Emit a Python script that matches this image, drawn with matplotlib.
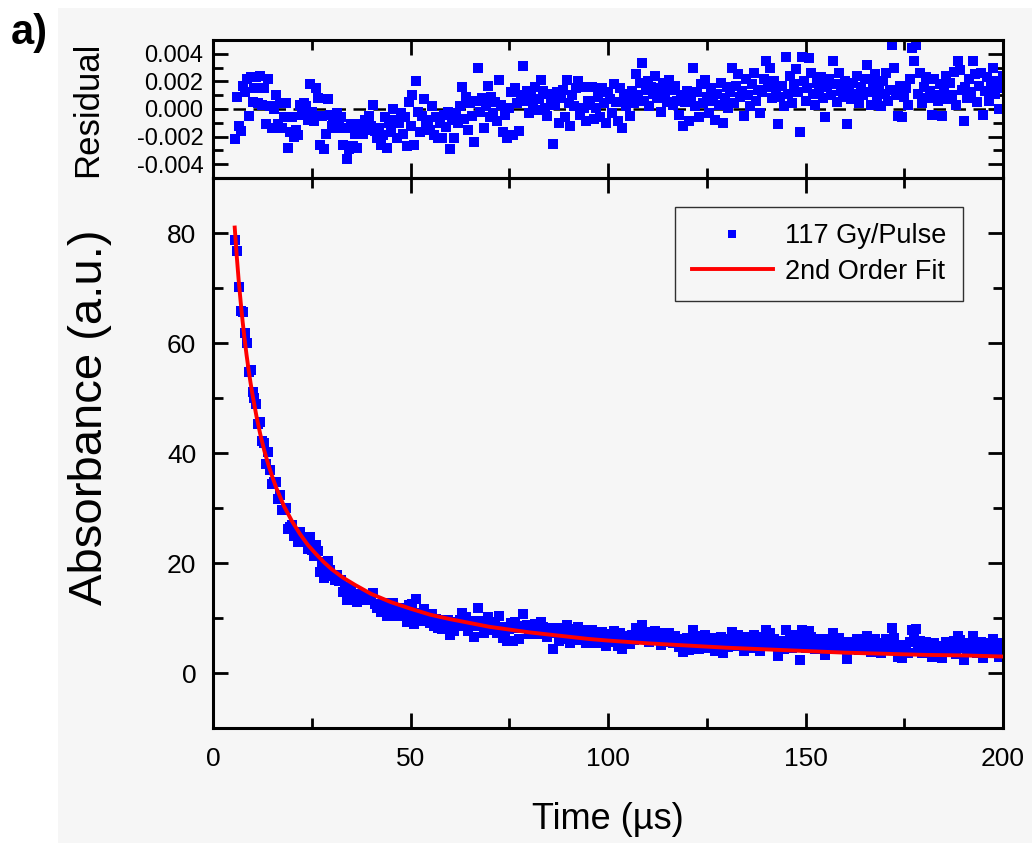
'''
Second order decay fit of transient absorbance, with residual panel
'''
import numpy as np
import matplotlib
matplotlib.use('Agg')
import matplotlib.pyplot as plt
from matplotlib.ticker import MultipleLocator, FixedLocator, FormatStrFormatter
from matplotlib.patches import Rectangle

plt.rcParams['font.family'] = ['Liberation Sans', 'DejaVu Sans']
plt.rcParams['axes.unicode_minus'] = False

# time grid of the digitizer, 0.5 us steps (us)
time = np.arange(5.5, 200.01, 0.5)

# residual of the fit (units of 1e-3)
residual = [
    -2.2, 0.9, -1.2, -1.6, 1.7, 1.2, 2.2, -0.5, 2.3, 0.5, 1.5, 2.3, 0.4, 2.4, 0.3, 1.5, -1.1, 2.2, 0.2, -1.4,
    0.0, 1.0, -1.1, 0.4, -1.4, -0.6, 0.4, -2.8, -1.7, -0.6, -2.0, -1.5, -1.9, 0.3, -0.4, 0.4, 0.2, -0.8, 1.8, -0.2,
    -0.9, 1.5, 0.8, -2.6, -0.5, -2.9, -1.8, 0.7, -0.4, -1.2, -0.9, -1.4, -0.3, -1.1, -0.6, -2.6, -1.4, -3.6, -2.9, -1.1,
    -2.7, -1.8, -2.8, -1.6, -1.1, -1.8, -0.8, -1.5, -0.5, -1.2, 0.3, -1.6, -2.1, -1.4, -2.6, -1.9, -0.6, -2.8, -1.0, -1.7,
    0.0, -0.8, -2.1, -1.0, -0.3, -1.8, -0.6, -2.7, 0.5, -1.2, 1.0, -2.6, 2.0, -0.2, -1.7, -0.5, 0.7, -1.2, -0.8, -1.5,
    0.2, -1.9, -0.6, -2.1, -1.0, -2.1, -0.4, -1.3, -0.2, -2.9, -0.8, -2.1, -0.3, -1.0, 0.2, 1.6, -0.7, 0.9, -1.5, 0.4,
    -0.5, -2.4, 0.6, 2.95, -0.2, 0.8, -1.4, 0.2, 1.7, -0.6, 0.9, -0.3, 0.5, -0.9, 2.1, 0.3, -1.7, -0.4, -2.1, 0.1,
    1.2, -1.9, 1.5, 0.4, -1.6, 1.0, 3.1, 0.6, 1.3, -0.3, 0.9, 0.2, 1.6, -0.1, 0.7, 2.1, 1.3, 0.1, -0.5, 1.1,
    0.6, -2.5, 0.3, 1.2, -1.0, 0.8, 1.4, -0.6, 2.1, 0.4, -1.2, 1.0, 0.2, 1.5, 2.0, -0.4, 1.6, 0.1, -0.9, 0.6,
    0.3, 1.6, -0.7, 0.1, 0.9, -0.6, 1.5, 0.4, -1.0, 1.2, 0.7, -0.3, 1.8, 0.5, -0.9, 1.5, -1.4, 0.8, 0.2, 1.1,
    -0.5, 1.3, 0.4, 2.5, 1.0, 1.9, 3.3, 0.6, 1.4, 2.0, 0.2, 1.6, 1.1, 2.4, 0.8, 1.5, -0.2, 1.9, 1.2, 0.5,
    2.1, 1.4, 0.3, 1.7, 0.6, -0.4, 1.0, -1.2, 0.5, 1.3, -0.9, 0.7, 2.95, 0.2, 1.2, -0.6, 1.8, 0.4, 2.1, 0.9,
    -0.3, 1.5, 0.6, -0.8, 1.1, 0.3, 1.9, -1.0, 0.8, 1.6, 0.1, 1.2, 2.95, 0.4, 1.7, 2.5, 0.9, 1.3, -0.5, 2.2,
    1.0, 0.2, 1.8, 2.6, 0.6, 1.4, -0.3, 1.2, 2.2, 3.5, 1.6, 3.0, 0.8, 2.0, 1.3, -1.1, 0.9, 1.7, 0.2, 3.8,
    1.1, 2.4, 0.4, 1.8, 2.9, 1.2, -1.7, 3.8, 2.0, 0.6, 1.5, 3.7, 2.6, 1.1, 0.3, 1.9, 1.4, 2.3, 0.8, -0.6,
    1.6, 2.2, 1.0, 3.5, 1.8, 0.5, 2.6, 1.3, 0.9, 2.0, -1.1, 1.4, 0.7, 1.9, 1.1, 2.4, 0.4, 1.6, 1.0, 2.2,
    3.2, 1.2, 0.3, 1.8, 2.5, 0.8, 1.5, 0.2, 2.0, 1.1, 2.6, 0.6, 1.4, 4.6, 2.95, 1.0, -0.5, 1.7, -0.6, 0.9,
    1.5, 0.3, 2.2, 4.4, 3.5, 4.6, 1.1, 2.6, 0.4, 1.6, 2.3, 0.8, 1.3, -0.4, 2.2, 1.0, 0.6, 1.8, -0.5, 1.2,
    2.4, 0.7, 1.9, 1.0, 2.7, 0.3, 3.5, 2.8, 1.4, -0.9, 1.6, 0.8, 2.2, 1.2, 3.5, 2.5, 0.5, 1.7, 2.6, -0.4,
    1.3, 2.3, 0.6, 1.8, 3.0, 1.1, 2.0, 0.0, 1.5, 2.4,
]

# measured absorbance (a.u.)
absorbance = [
    78.8, 76.8, 70.2, 65.9, 65.6, 61.9, 60.0, 54.7, 55.1, 51.1, 50.0, 49.0, 45.3, 45.7, 42.1, 41.9, 38.0, 40.1, 37.0, 34.3,
    34.7, 34.7, 31.7, 32.3, 29.7, 29.7, 30.0, 26.1, 26.5, 27.0, 25.0, 24.9, 23.9, 25.6, 24.4, 24.7, 24.0, 22.5, 24.7, 22.3,
    21.2, 23.2, 22.1, 18.3, 20.1, 17.3, 18.1, 20.3, 18.8, 17.7, 17.8, 17.0, 17.8, 16.7, 17.0, 14.7, 15.7, 13.2, 13.7, 15.3,
    13.5, 14.2, 13.0, 13.9, 14.3, 13.4, 14.2, 13.3, 14.1, 13.2, 14.6, 12.5, 11.9, 12.4, 11.1, 11.6, 12.8, 10.4, 12.1, 11.2,
    12.8, 11.8, 10.4, 11.4, 11.9, 10.3, 11.4, 9.2, 12.3, 10.5, 12.6, 8.9, 13.4, 11.0, 9.4, 10.5, 11.6, 9.6, 9.9, 9.1,
    10.8, 8.6, 9.8, 8.2, 9.2, 8.0, 9.7, 8.7, 9.7, 6.9, 8.9, 7.6, 9.3, 8.5, 9.6, 11.0, 8.6, 10.1, 7.7, 9.5,
    8.5, 6.5, 9.5, 11.8, 8.6, 9.5, 7.2, 8.8, 10.2, 7.8, 9.3, 8.0, 8.8, 7.3, 10.3, 8.4, 6.4, 7.6, 5.9, 8.0,
    9.1, 5.9, 9.3, 8.1, 6.1, 8.6, 10.7, 8.1, 8.8, 7.1, 8.3, 7.5, 8.9, 7.1, 7.9, 9.3, 8.4, 7.2, 6.6, 8.1,
    7.6, 4.4, 7.2, 8.1, 5.8, 7.6, 8.1, 6.1, 8.8, 7.0, 5.4, 7.5, 6.7, 8.0, 8.4, 6.0, 7.9, 6.4, 5.4, 6.8,
    6.5, 7.8, 5.4, 6.2, 7.0, 5.4, 7.5, 6.4, 4.9, 7.1, 6.6, 5.6, 7.6, 6.3, 4.9, 7.3, 4.4, 6.5, 5.9, 6.8,
    5.2, 6.9, 6.0, 8.1, 6.6, 7.4, 8.8, 6.1, 6.9, 7.4, 5.6, 7.0, 6.5, 7.7, 6.1, 6.8, 5.1, 7.2, 6.4, 5.7,
    7.3, 6.6, 5.5, 6.8, 5.7, 4.7, 6.1, 3.9, 5.5, 6.3, 4.1, 5.7, 7.9, 5.1, 6.1, 4.3, 6.7, 5.3, 6.9, 5.7,
    4.5, 6.3, 5.4, 4.0, 5.8, 5.0, 6.6, 3.7, 5.5, 6.2, 4.7, 5.8, 7.5, 5.0, 6.2, 7.0, 5.4, 5.8, 4.0, 6.6,
    5.4, 4.6, 6.2, 7.0, 5.0, 5.8, 4.0, 5.5, 6.5, 7.8, 5.9, 7.3, 5.1, 6.2, 5.5, 3.1, 5.1, 5.9, 4.4, 7.9,
    5.2, 6.5, 4.5, 5.9, 7.0, 5.3, 2.3, 7.8, 6.0, 4.6, 5.5, 7.7, 6.6, 5.1, 4.3, 5.8, 5.3, 6.2, 4.7, 3.3,
    5.5, 6.1, 4.9, 7.3, 5.6, 4.3, 6.4, 5.1, 4.7, 5.7, 2.6, 5.1, 4.4, 5.6, 4.8, 6.1, 4.1, 5.2, 4.6, 5.8,
    6.8, 4.8, 3.9, 5.4, 6.1, 4.4, 5.1, 3.7, 5.5, 4.6, 6.1, 4.1, 4.9, 8.1, 6.4, 4.5, 2.9, 5.1, 2.8, 4.3,
    4.9, 3.7, 5.6, 7.8, 6.9, 8.0, 4.5, 5.9, 3.7, 4.9, 5.6, 4.1, 4.6, 2.9, 5.5, 4.3, 3.9, 5.0, 2.7, 4.4,
    5.6, 3.9, 5.1, 4.2, 5.9, 3.5, 6.7, 6.0, 4.6, 2.3, 4.8, 4.0, 5.4, 4.4, 6.7, 5.6, 3.6, 4.8, 5.7, 2.7,
    4.4, 5.4, 3.7, 4.9, 6.1, 4.1, 5.0, 3.0, 4.5, 5.4,
]

# 2nd order fit curve
fit_time = [5.5, 6, 6.5, 7, 7.5, 8, 8.5, 9, 9.5, 10, 11, 12, 13, 14, 15, 16, 18, 20, 22, 24, 26, 28, 30,
            33, 36, 40, 45, 50, 55, 60, 65, 70, 75, 80, 85, 90, 95, 100, 110, 120, 130, 140, 150,
            160, 170, 180, 190, 200]
fit_abs = [81.0, 75.9, 71.4, 67.5, 63.9, 60.7, 57.8, 55.2, 52.8, 50.6, 46.7, 43.3, 40.4, 37.9, 35.7, 33.7,
           30.3, 27.6, 25.3, 23.3, 21.7, 20.2, 18.9, 17.3, 16.0, 14.4, 12.9, 11.7, 10.6, 9.8, 9.1, 8.4,
           7.9, 7.4, 7.0, 6.6, 6.2, 5.9, 5.4, 5.0, 4.6, 4.3, 4.0, 3.7, 3.5, 3.3, 3.2, 3.0]

fig = plt.figure(figsize=(10.32, 8.43), dpi=100)
fig.patches.append(Rectangle((0.056, 0), 0.944, 0.9905, transform=fig.transFigure,
                             facecolor='#f6f6f6', edgecolor='none', zorder=-10))

ax_res = fig.add_axes([0.2064, 0.7888, 0.7655, 0.1638])
ax = fig.add_axes([0.2064, 0.1364, 0.7655, 0.6524], sharex=ax_res)

for a in (ax, ax_res):
    a.set_facecolor('none')
    for s in a.spines.values():
        s.set_linewidth(2.2)
    a.tick_params(which='both', direction='in', top=True, right=True, width=2, colors='black')
    a.tick_params(which='major', length=11)
    a.tick_params(which='minor', length=7)

# main panel
ax.plot(time, absorbance, 's', color='#0000ff', markersize=6.8, markeredgewidth=0,
        label='117 Gy/Pulse', zorder=2)
ax.plot(fit_time, fit_abs, '-', color='#ff0000', lw=2.8, label='2nd Order Fit', zorder=3)
ax.set_xlim(0, 200)
ax.set_ylim(-10, 90)
ax.xaxis.set_major_locator(MultipleLocator(50))
ax.xaxis.set_minor_locator(MultipleLocator(25))
ax.yaxis.set_major_locator(FixedLocator([0, 20, 40, 60, 80]))
ax.yaxis.set_minor_locator(FixedLocator([-10, 10, 30, 50, 70, 90]))
ax.tick_params(labelsize=19, pad=12)
ax.tick_params(axis='x', pad=14)
ax.set_xlabel('Time (\u00b5s)', fontsize=26, labelpad=22)
ax.set_ylabel('Absorbance (a.u.)', fontsize=34)
ax.yaxis.set_label_coords(-0.128, 0.565)
leg = ax.legend(loc='upper right', bbox_to_anchor=(0.949, 0.947), borderaxespad=0,
                fontsize=19.5, frameon=True, fancybox=False, handlelength=3.0, numpoints=1,
                handletextpad=0.45, markerscale=0.9, borderpad=0.6, labelspacing=0.35)
leg.get_frame().set_edgecolor('black')
leg.get_frame().set_linewidth(1.0)
leg.get_frame().set_facecolor('none')

# residual panel
ax_res.plot(time, np.array(residual) * 1e-3, 's', color='#0000ff', markersize=6.8,
            markeredgewidth=0, zorder=2)
ax_res.axhline(0, color='black', lw=1.8, ls=(0, (5, 3)), zorder=1)
ax_res.set_ylim(-0.005, 0.005)
ax_res.yaxis.set_major_locator(FixedLocator([-0.004, -0.002, 0.0, 0.002, 0.004]))
ax_res.yaxis.set_minor_locator(FixedLocator([-0.005, -0.003, -0.001, 0.001, 0.003, 0.005]))
ax_res.yaxis.set_major_formatter(FormatStrFormatter('%.3f'))
ax_res.tick_params(axis='x', labelbottom=False)
ax_res.tick_params(axis='y', labelsize=17, pad=7)
ax_res.set_ylabel('Residual', fontsize=25)
ax_res.yaxis.set_label_coords(-0.138, 0.5)

fig.text(0.010, 0.984, 'a)', fontsize=30, fontweight='bold', va='top', ha='left')

fig.savefig('out.png', dpi=100, facecolor='white')
